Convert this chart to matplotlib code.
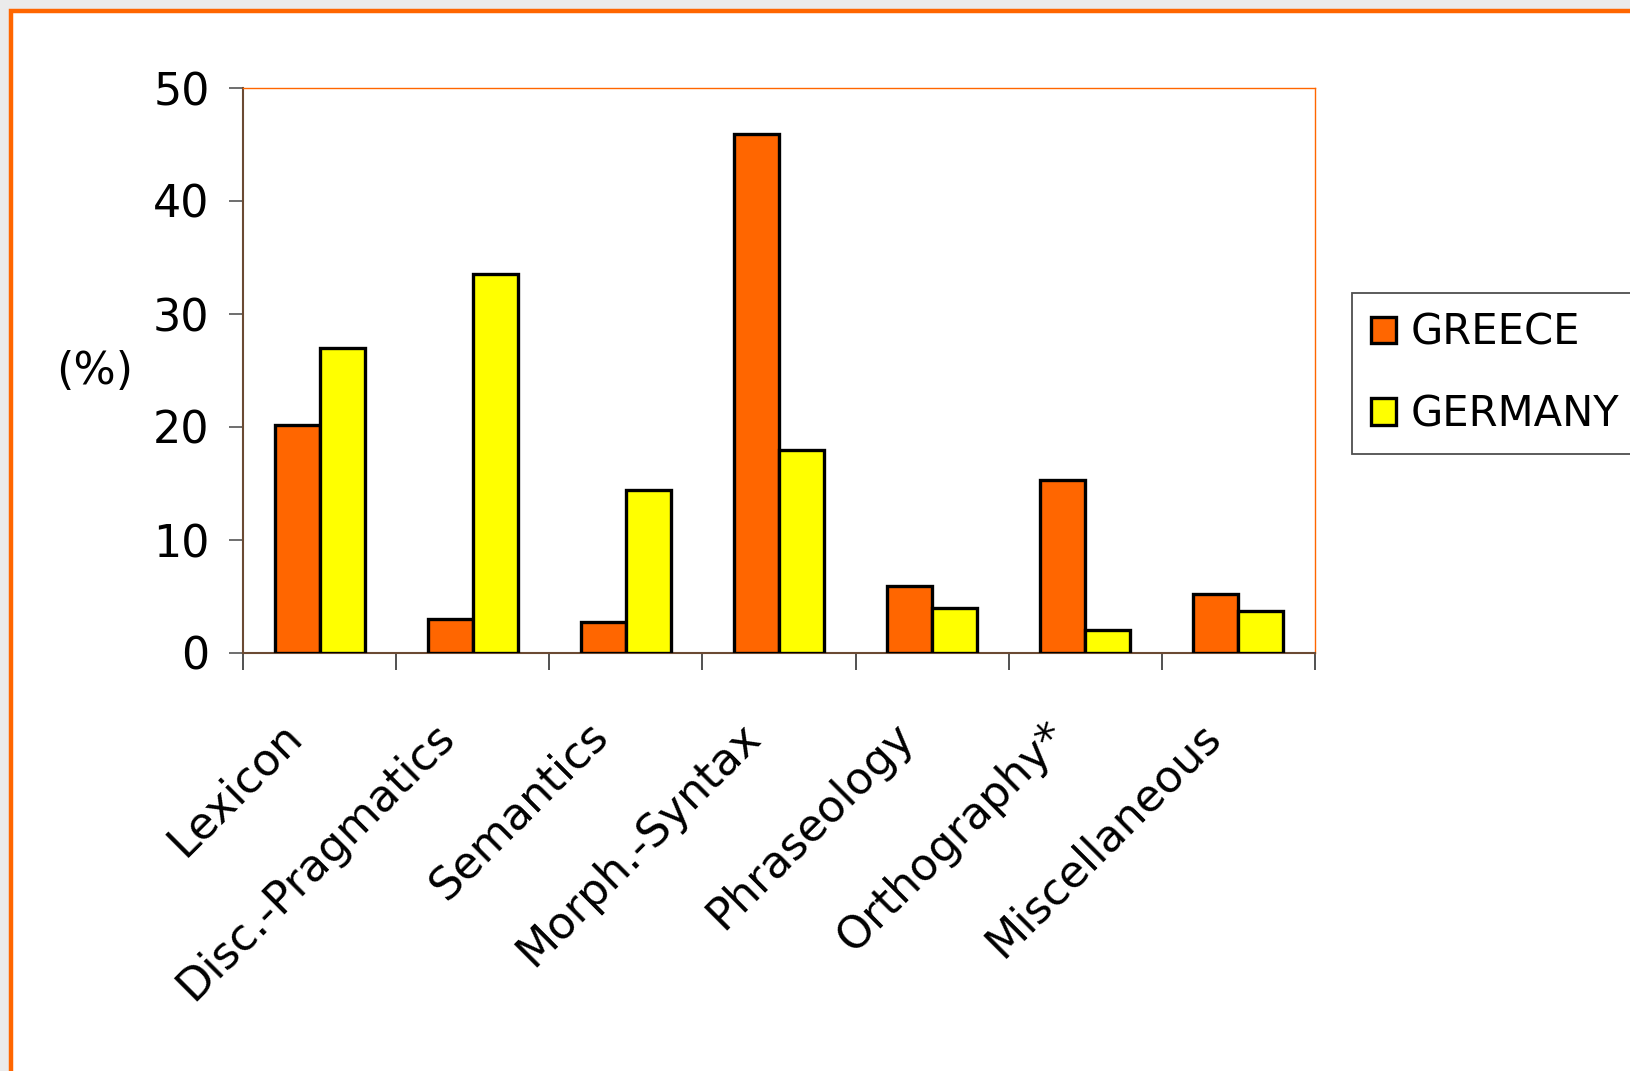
import numpy as np
import matplotlib
matplotlib.use("Agg")
import matplotlib.pyplot as plt
import matplotlib.transforms as mtransforms
from matplotlib.patches import Rectangle

plt.rcParams['font.family'] = ['DejaVu Sans']

categories = ['Lexicon', 'Disc.-Pragmatics', 'Semantics', 'Morph.-Syntax',
              'Phraseology', 'Orthography*', 'Miscellaneous']
greece = [20.2, 3.0, 2.7, 45.9, 5.9, 15.3, 5.2]
germany = [27.0, 33.5, 14.4, 18.0, 4.0, 2.0, 3.7]

W, H = 1631, 1071
FS = 32
fig = plt.figure(figsize=(W / 100, H / 100), dpi=100, facecolor='#ebebeb')

# white slide panel with orange frame, cut off on the right and bottom
fig.patches.append(Rectangle((11 / W, -0.05), 1.1, (H - 11) / H + 0.05,
                             transform=fig.transFigure, facecolor='white',
                             edgecolor='#ff6600', linewidth=3.2, zorder=-10))

ax = fig.add_axes([243 / W, 1 - 653 / H, (1315 - 243) / W, (653 - 88) / H])
ax.set_facecolor('white')

x = np.arange(len(categories))
bw = 1 / 1.7 / 2
ax.bar(x - bw / 2, greece, bw, color='#ff6600', edgecolor='black',
       linewidth=2.4, label='GREECE', zorder=3)
ax.bar(x + bw / 2, germany, bw, color='#ffff00', edgecolor='black',
       linewidth=2.4, label='GERMANY', zorder=3)

ax.set_xlim(-0.5, len(categories) - 0.5)
ax.set_ylim(0, 50)
ax.set_yticks(range(0, 51, 10))
ax.tick_params(axis='y', length=10, width=1.2, color='#555555',
               labelsize=FS, pad=14)

# category ticks sit on the boundaries between groups
ax.set_xticks(np.arange(-0.5, len(categories), 1))
ax.set_xticklabels([])
ax.tick_params(axis='x', length=12, width=1.2, color='#333333')
ax.set_xticks(x, minor=True)
ax.set_xticklabels(categories, minor=True, rotation=45, ha='right',
                   rotation_mode='anchor', fontsize=FS)
ax.tick_params(axis='x', which='minor', length=0, pad=44)
shift = mtransforms.ScaledTranslation(-40 / 100, 0, fig.dpi_scale_trans)
for lbl in ax.get_xticklabels(minor=True):
    lbl.set_transform(lbl.get_transform() + shift)

for side in ['top', 'right']:
    ax.spines[side].set_color('#ff6600')
    ax.spines[side].set_linewidth(1.0)
for side in ['left', 'bottom']:
    ax.spines[side].set_color('#6b4a33')
    ax.spines[side].set_linewidth(1.5)

fig.text(95 / W, 1 - 372 / H, '(%)', fontsize=FS, ha='center', va='center')

leg = ax.legend(loc='upper left', bbox_to_anchor=(1352 / W, 1 - 293 / H),
                bbox_transform=fig.transFigure, fontsize=30, frameon=True,
                fancybox=False, handlelength=0.6, handleheight=0.6,
                handletextpad=0.36, labelspacing=0.95, borderpad=0.45,
                borderaxespad=0)
leg.get_frame().set_edgecolor('#222222')
leg.get_frame().set_linewidth(1.3)

fig.savefig('out.png', dpi=100, facecolor=fig.get_facecolor())
